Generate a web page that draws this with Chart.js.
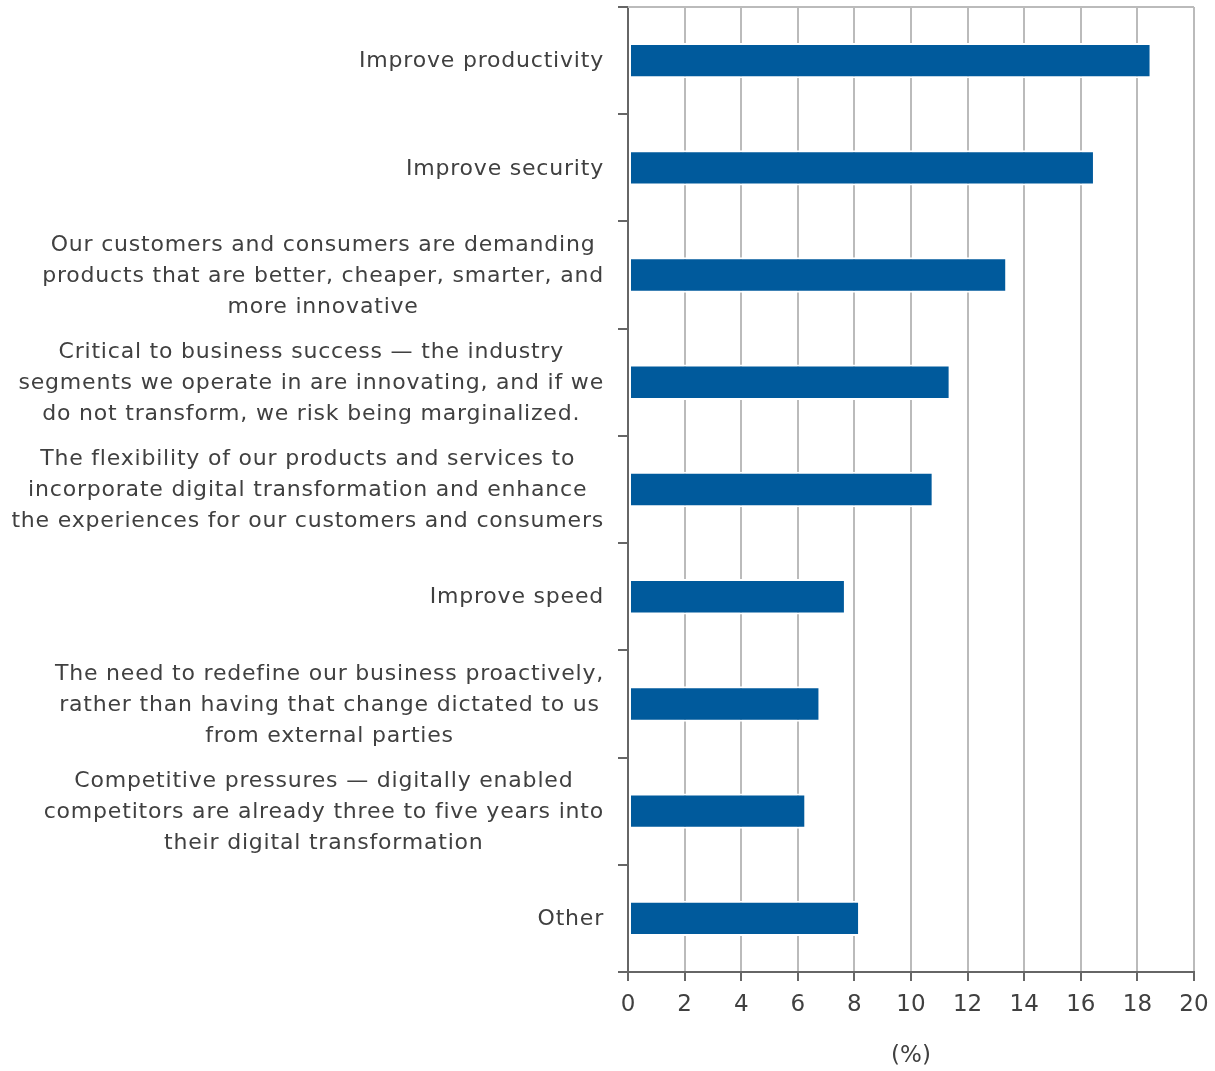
<!DOCTYPE html>
<html>
<head>
<meta charset="utf-8">
<script src="https://cdn.jsdelivr.net/npm/chart.js@4"></script>
<style>
  html,body{margin:0;padding:0;background:#fff;}
  #wrap{width:1215px;height:1071px;position:relative;}
</style>
</head>
<body>
<div id="wrap"><canvas id="c"></canvas></div>
<script>
// categories, top to bottom (multi-line labels as arrays)
const categories = [
  ['Improve productivity'],
  ['Improve security'],
  ['Our customers and consumers are demanding', 'products that are better, cheaper, smarter, and', 'more innovative'],
  ['Critical to business success \u2014 the industry', 'segments we operate in are innovating, and if we', 'do not transform, we risk being marginalized.'],
  ['The flexibility of our products and services to', 'incorporate digital transformation and enhance', 'the experiences for our customers and consumers'],
  ['Improve speed'],
  ['The need to redefine our business proactively,', 'rather than having that change dictated to us', 'from external parties'],
  ['Competitive pressures \u2014 digitally enabled', 'competitors are already three to five years into', 'their digital transformation'],
  ['Other']
];
const shares = [18.5, 16.5, 13.4, 11.4, 10.8, 7.7, 6.8, 6.3, 8.2];
const xTicks = [0, 2, 4, 6, 8, 10, 12, 14, 16, 18, 20];
const xTitle = '(%)';

const FONT = '"DejaVu Sans", sans-serif';
const TXT = '#404040';

// draws the category labels as centred blocks whose right edge sits next to the axis
const catLabels = {
  id: 'catLabels',
  afterDraw(chart) {
    const ctx = chart.ctx, y = chart.scales.y, area = chart.chartArea;
    ctx.save();
    // top frame line
    ctx.strokeStyle = '#bbbbbb'; ctx.lineWidth = 2;
    ctx.beginPath(); ctx.moveTo(area.left, area.top); ctx.lineTo(area.right, area.top); ctx.stroke();
    ctx.font = '22px ' + FONT;
    ctx.letterSpacing = '0.8px';
    ctx.fillStyle = TXT;
    ctx.textAlign = 'center'; ctx.textBaseline = 'middle';
    const lh = 31, rightEdge = area.left - 24;
    categories.forEach(function(lines, i) {
      const cy = y.getPixelForValue(i) + 1;
      let w = 0;
      lines.forEach(function(l){ w = Math.max(w, ctx.measureText(l).width); });
      const cx = rightEdge - w / 2;
      lines.forEach(function(l, k){
        ctx.fillText(l, cx, cy + (k - (lines.length - 1) / 2) * lh);
      });
    });
    ctx.restore();
  }
};

new Chart(document.getElementById('c'), {
  type: 'bar',
  data: {
    labels: categories.map(function(c){ return c.join(' '); }),
    datasets: [{
      data: shares,
      backgroundColor: '#005a9c',
      borderColor: '#ffffff',
      borderWidth: 2,
      borderSkipped: false,
      categoryPercentage: 1,
      barPercentage: 0.33
    }]
  },
  options: {
    indexAxis: 'y',
    responsive: true,
    maintainAspectRatio: false,
    animation: false,
    layout: { padding: { top: 7, right: 0, bottom: 0, left: 0 } },
    plugins: { legend: { display: false }, tooltip: { enabled: false } },
    scales: {
      x: {
        min: 0, max: 20,
        afterBuildTicks: function(s){ s.ticks = xTicks.map(function(v){ return { value: v }; }); },
        afterFit: function(s){ s.height = 99; s.paddingLeft = 0; s.paddingRight = 21; },
        grid: { color: '#bbbbbb', lineWidth: 2, tickColor: '#666666', tickLength: 9, drawTicks: true },
        border: { color: '#666666', width: 2 },
        ticks: { color: TXT, font: { family: FONT, size: 23 }, padding: 10, maxRotation: 0 },
        title: { display: true, text: xTitle, color: TXT, font: { family: FONT, size: 23 }, padding: { top: 4, bottom: 1 } }
      },
      y: {
        afterFit: function(s){ s.width = 628; },
        grid: { drawOnChartArea: false, drawTicks: true, tickLength: 10, tickColor: '#666666', lineWidth: 2, offset: true },
        border: { color: '#666666', width: 2 },
        ticks: { display: false }
      }
    }
  },
  plugins: [catLabels]
});
</script>
</body>
</html>
